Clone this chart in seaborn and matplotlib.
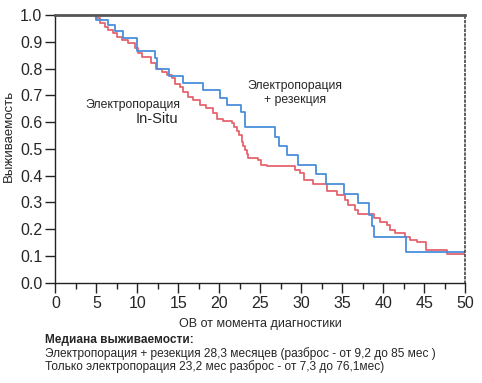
import numpy as np
import pandas as pd
import matplotlib
matplotlib.use('Agg')
import matplotlib.pyplot as plt
from matplotlib.ticker import MultipleLocator
import seaborn as sns

# ============================================================
# DATA
# ============================================================

# Электропорация + резекция (blue)
time_resect = [4.6, 5.0, 6.4, 7.3, 8.2, 9.9, 12.1, 12.4, 13.9, 15.6, 18.0, 20.1,
               20.9, 22.6, 23.1, 26.8, 27.3, 28.2, 29.6, 31.8, 33.0, 35.2, 36.9,
               38.2, 38.6, 38.8, 42.8, 50.0]
surv_resect = [1.0, 0.98, 0.963, 0.94, 0.915, 0.867, 0.84, 0.798, 0.772, 0.745, 0.72, 0.69,
               0.664, 0.636, 0.58, 0.545, 0.511, 0.476, 0.44, 0.405, 0.37, 0.333, 0.296,
               0.253, 0.212, 0.17, 0.115, 0.115]

# Электропорация In-Situ (red)
time_insitu = [4.3, 5.0, 5.4, 6.0, 6.4, 7.0, 7.5, 8.1, 8.9, 9.7, 10.1, 10.5, 11.7,
               12.3, 13.0, 13.6, 14.2, 14.6, 15.2, 15.6, 16.2, 16.8, 17.6, 18.3,
               19.2, 19.7, 20.4, 21.5, 21.8, 22.1, 22.4, 22.7, 22.9, 23.1, 23.3,
               23.5, 24.7, 25.1, 25.8, 29.2, 29.8, 30.3, 31.4, 33.1, 34.3, 35.3,
               35.7, 36.5, 36.9, 38.8, 39.6, 40.4, 40.8, 41.4, 42.6, 43.2, 44.1,
               45.2, 47.7, 50.0]
surv_insitu = [1.0, 0.988, 0.969, 0.956, 0.944, 0.931, 0.919, 0.906, 0.894, 0.875, 0.857, 0.844, 0.82,
               0.80, 0.788, 0.775, 0.763, 0.744, 0.732, 0.713, 0.695, 0.682, 0.665, 0.651,
               0.632, 0.612, 0.603, 0.595, 0.58, 0.568, 0.55, 0.527, 0.51, 0.495, 0.48,
               0.466, 0.458, 0.44, 0.435, 0.42, 0.408, 0.383, 0.37, 0.341, 0.327, 0.308,
               0.29, 0.271, 0.258, 0.241, 0.228, 0.216, 0.197, 0.184, 0.172, 0.16, 0.153,
               0.122, 0.106, 0.106]

x_ticks = [0, 5, 10, 15, 20, 25, 30, 35, 40, 45, 50]
y_ticks = [0.0, 0.1, 0.2, 0.3, 0.4, 0.5, 0.6, 0.7, 0.8, 0.9, 1.0]

df = pd.concat([
    pd.DataFrame({'time': time_insitu, 'surv': surv_insitu, 'group': 'insitu'}),
    pd.DataFrame({'time': time_resect, 'surv': surv_resect, 'group': 'resect'}),
])

# ============================================================
# STYLE
# ============================================================

sns.set_style('ticks')
plt.rcParams['font.family'] = ['Liberation Sans', 'DejaVu Sans']

RED = '#E5646E'
BLUE = '#4A8FDB'

fig = plt.figure(figsize=(4.82, 3.83), dpi=100)
ax = fig.add_axes([0.1151, 0.2619, 0.8506, 0.699])

sns.lineplot(data=df, x='time', y='surv', hue='group', palette={'insitu': RED, 'resect': BLUE},
             estimator=None, drawstyle='steps-post', linewidth=1.3, legend=False, ax=ax)

ax.set_xlim(0, 50)
ax.set_ylim(0, 1.0)
ax.set_xticks(x_ticks)
ax.set_yticks(y_ticks)
ax.set_yticklabels([f'{v:.1f}' for v in y_ticks])
ax.xaxis.set_minor_locator(MultipleLocator(2.5))
ax.tick_params(axis='both', which='major', labelsize=11.5, length=7, width=1, color='#222222', pad=2.5)
ax.tick_params(axis='x', which='minor', length=4, width=1, color='#222222')

for side in ['left', 'bottom']:
    ax.spines[side].set_color('#222222')
    ax.spines[side].set_linewidth(1.0)
ax.spines['top'].set_visible(True)
ax.spines['top'].set_color('#555555')
ax.spines['top'].set_linewidth(2.0)
ax.spines['right'].set_visible(True)
ax.spines['right'].set_color('#444444')
ax.spines['right'].set_linewidth(1.2)
ax.spines['right'].set_linestyle(':')

ax.set_xlabel('ОВ от момента диагностики', fontsize=9, labelpad=5)
ax.set_ylabel('Выживаемость', fontsize=9.5)
ax.yaxis.set_label_coords(-0.1, 0.548)

# ============================================================
# ANNOTATIONS
# ============================================================

ax.text(15.2, 0.665, 'Электропорация', fontsize=8.8, ha='right', va='center')
ax.text(15.0, 0.61, 'In-Situ', fontsize=10.5, ha='right', va='center')
ax.text(29.2, 0.735, 'Электропорация', fontsize=8.8, ha='center', va='center')
ax.text(29.2, 0.683, '+ резекция', fontsize=8.8, ha='center', va='center')

fig.text(45 / 482, 1 - 340 / 383, 'Медиана выживаемости:', fontsize=8.6, fontweight='bold', va='center')
fig.text(45 / 482, 1 - 353.5 / 383, 'Электропорация + резекция 28,3 месяцев (разброс - от 9,2 до 85 мес )',
         fontsize=8.6, va='center')
fig.text(45 / 482, 1 - 367 / 383, 'Только электропорация 23,2 мес разброс - от 7,3 до 76,1мес)',
         fontsize=8.6, va='center')

fig.savefig('out.png', dpi=100)
